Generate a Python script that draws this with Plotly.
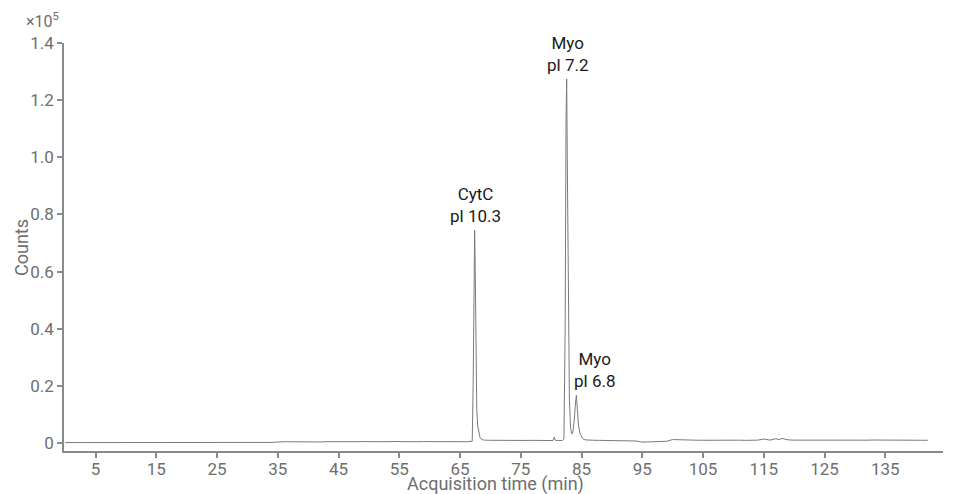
import plotly.graph_objects as go

# Acquisition time (min)
time_min = [
    0, 5, 10, 15, 20, 25, 30, 34,
    36, 37, 38, 39, 40, 41, 42, 43, 44, 45, 46, 47, 48, 49, 50, 51, 52, 53, 54, 55,
    56, 57, 58, 59, 60, 61, 62, 63, 64, 65, 66, 66.8,
    67.0, 67.15, 67.3, 67.4, 67.5, 67.6, 67.75, 67.9, 68.1, 68.3, 68.6, 69.0,
    70, 71, 72, 73, 74, 75, 76, 77, 78, 79, 80, 80.3, 80.5, 80.7, 81, 81.9,
    82.1, 82.3, 82.45, 82.55, 82.65, 82.8, 83.0, 83.2, 83.4, 83.55, 83.8, 84.0,
    84.15, 84.3, 84.5, 84.8, 85.2, 85.6,
    86, 87, 88, 89, 90, 91, 92, 93, 94, 95, 96, 97, 98, 99, 100, 101, 102, 103,
    104, 105, 106, 107, 108, 109, 110, 111, 112, 113, 114, 115, 116, 117, 117.5,
    118, 119, 120, 121, 122, 123, 124, 125, 126, 127, 128, 129, 130, 131, 132,
    133, 134, 135, 136, 137, 138, 139, 140, 141, 142, 143, 144.5,
]

# Counts (x10^5)
counts_e5 = [
    0.0015, 0.0016, 0.0014, 0.0017, 0.0015, 0.0018, 0.0019, 0.0020,
    0.0045, 0.0040, 0.0035, 0.0040, 0.0038, 0.0042, 0.0036, 0.0045, 0.0040, 0.0048,
    0.0042, 0.0038, 0.0045, 0.0050, 0.0043, 0.0047, 0.0040, 0.0045, 0.0052, 0.0046,
    0.0040, 0.0048, 0.0044, 0.0050, 0.0045, 0.0042, 0.0048, 0.0044, 0.0040, 0.0046,
    0.0042, 0.0040,
    0.0060, 0.2000, 0.6500, 0.7450, 0.6000, 0.3000, 0.1200, 0.0600, 0.0300, 0.0180,
    0.0120, 0.0100,
    0.0095, 0.0090, 0.0098, 0.0092, 0.0088, 0.0095, 0.0090, 0.0093, 0.0087, 0.0094,
    0.0090, 0.0085, 0.0200, 0.0090, 0.0088, 0.0090,
    0.0150, 0.4000, 1.1500, 1.2740, 1.0000, 0.5000, 0.1500, 0.0500, 0.0320, 0.0350,
    0.0800, 0.1400, 0.1670, 0.1200, 0.0600, 0.0300, 0.0150, 0.0110,
    0.0100, 0.0095, 0.0092, 0.0090, 0.0094, 0.0088, 0.0085, 0.0082, 0.0070, 0.0030,
    0.0035, 0.0045, 0.0050, 0.0060, 0.0120, 0.0110, 0.0105, 0.0100, 0.0098, 0.0096,
    0.0100, 0.0094, 0.0097, 0.0092, 0.0095, 0.0098, 0.0093, 0.0096, 0.0100, 0.0140,
    0.0100, 0.0150, 0.0120, 0.0160, 0.0110, 0.0100, 0.0098, 0.0102, 0.0097, 0.0100,
    0.0096, 0.0099, 0.0101, 0.0097, 0.0100, 0.0098, 0.0102, 0.0099, 0.0104, 0.0106,
    0.0103, 0.0108, 0.0100, 0.0095, 0.0098, 0.0093, 0.0096, 0.0095,
]

x_ticks = [5, 15, 25, 35, 45, 55, 65, 75, 85, 95, 105, 115, 125, 135]
y_ticks = [0, 0.2, 0.4, 0.6, 0.8, 1.0, 1.2, 1.4]
y_tick_labels = ["0", "0.2", "0.4", "0.6", "0.8", "1.0", "1.2", "1.4"]

peak_times = [67.4, 82.55, 84.15]
peak_heights = [0.745, 1.274, 0.167]
peak_labels = ["CytC<br>pl 10.3", "Myo<br>pl 7.2", "Myo<br>pl 6.8"]
peak_xshift = [1, 1, 19]

FONT = "Roboto"
GREY = "#6e6e6e"
AXIS = "#8a8a8a"

W, H = 953, 494
ML, MR, MT, MB = 64, 10, 43, 43
PW, PH = W - ML - MR, H - MT - MB


def px_x(px):
    return (px - ML) / PW


def px_y(py):
    return (H - MB - py) / PH


fig = go.Figure()
fig.add_trace(go.Scatter(
    x=time_min, y=counts_e5, mode="lines",
    line=dict(color="#7a7a7a", width=1),
    hoverinfo="skip", showlegend=False,
))

for t, h, lab, xs in zip(peak_times, peak_heights, peak_labels, peak_xshift):
    fig.add_annotation(
        x=t, y=h, xref="x", yref="y", text=lab, showarrow=False,
        xanchor="center", yanchor="bottom", yshift=2, xshift=xs,
        font=dict(family=FONT, size=17, color="#1a1a1a"),
    )

fig.add_annotation(
    x=px_x(24), y=px_y(21), xref="paper", yref="paper", text="×10<sup>5</sup>",
    showarrow=False, xanchor="left", yanchor="middle",
    font=dict(family=FONT, size=16, color=GREY),
)
fig.add_annotation(
    x=px_x(495), y=px_y(484), xref="paper", yref="paper",
    text="Acquisition time (min)", showarrow=False,
    xanchor="center", yanchor="middle",
    font=dict(family=FONT, size=18, color=GREY),
)
fig.add_annotation(
    x=px_x(21), y=px_y(248), xref="paper", yref="paper",
    text="Counts", showarrow=False, textangle=-90,
    xanchor="center", yanchor="middle",
    font=dict(family=FONT, size=18, color=GREY),
)

fig.update_layout(
    width=W, height=H,
    margin=dict(l=ML, r=MR, t=MT, b=MB, autoexpand=False),
    paper_bgcolor="white", plot_bgcolor="white",
    font=dict(family=FONT, size=17, color=GREY),
    showlegend=False,
)
fig.update_xaxes(
    range=[-0.2, 144.5], tickvals=x_ticks, automargin=False,
    showline=True, linecolor=AXIS, linewidth=1.5,
    ticks="outside", ticklen=5, tickcolor=AXIS, tickwidth=1.5,
    ticklabelstandoff=-3,
    showgrid=False, zeroline=False,
    tickfont=dict(family=FONT, size=17, color=GREY),
)
fig.update_yaxes(
    range=[-0.028, 1.4], tickvals=y_ticks, ticktext=y_tick_labels, automargin=False,
    showline=True, linecolor=AXIS, linewidth=1.5,
    ticks="outside", ticklen=5, tickcolor=AXIS, tickwidth=1.5,
    showgrid=False, zeroline=False,
    tickfont=dict(family=FONT, size=17, color=GREY),
)

fig.write_html("out.html", config={"displayModeBar": False},
               post_script="document.body.style.margin='0';")
